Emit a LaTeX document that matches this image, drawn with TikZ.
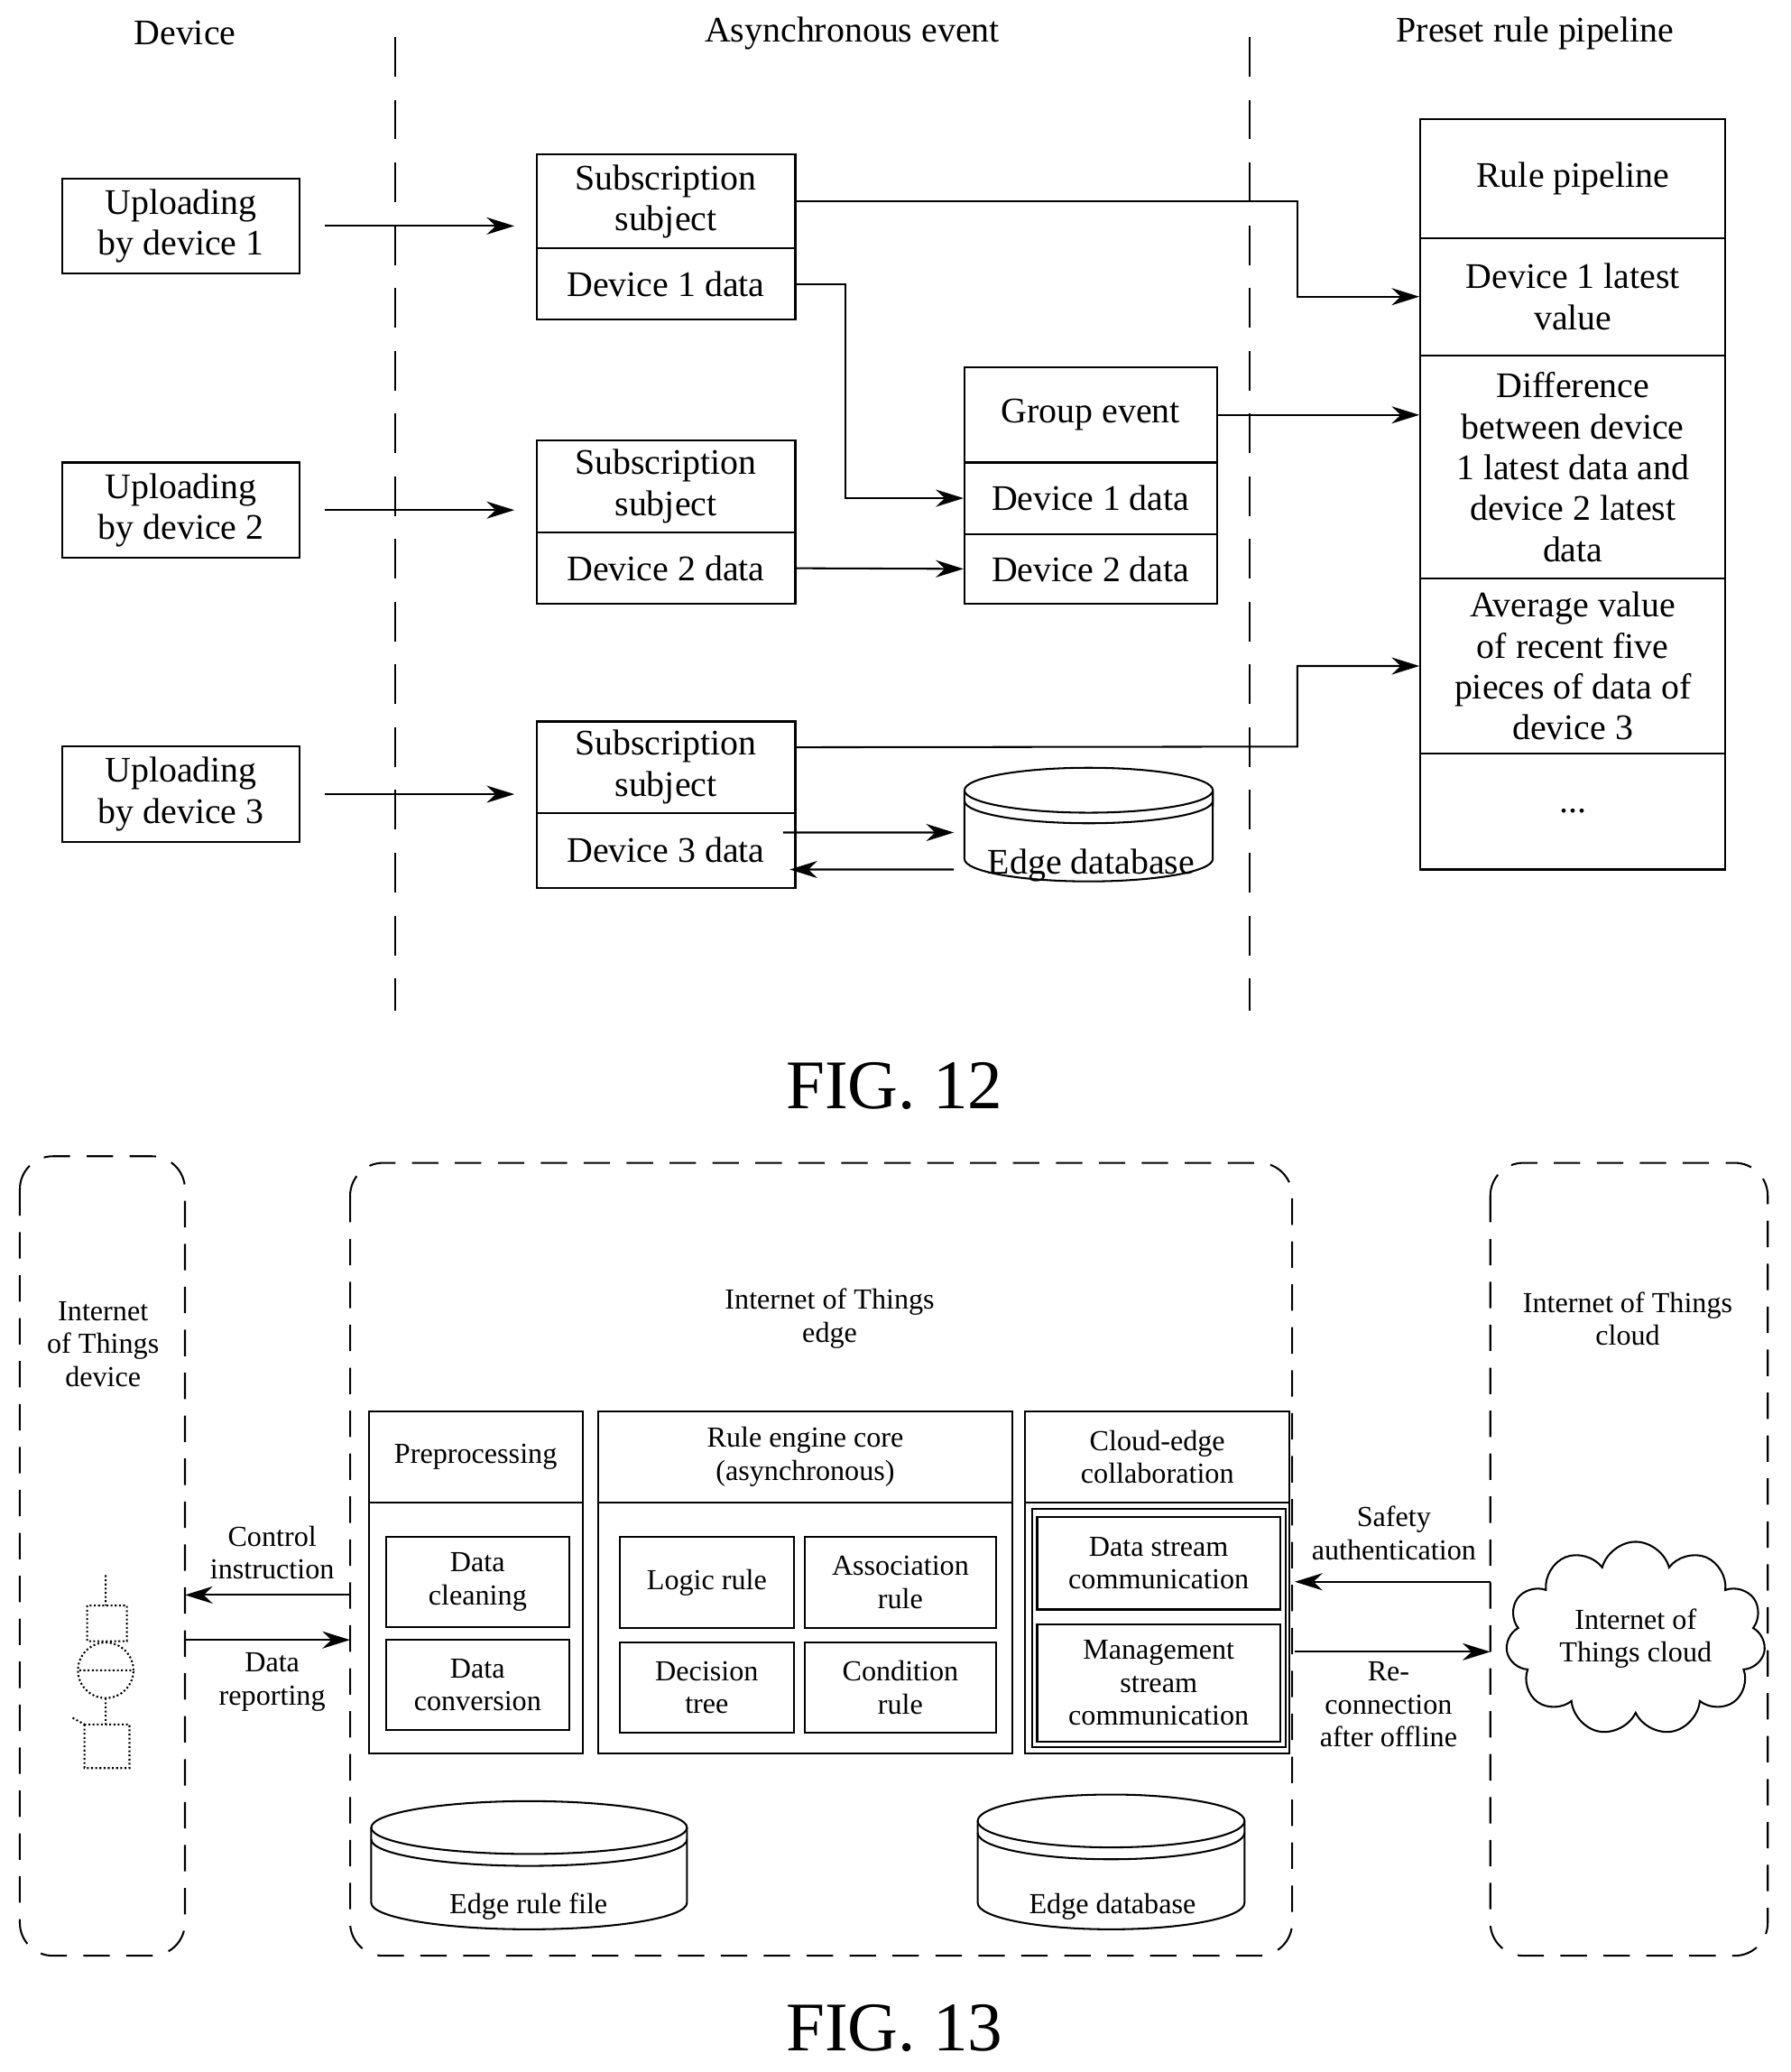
\documentclass[tikz,border=0pt]{standalone}
\usepackage{fontspec}
\setmainfont{Liberation Serif}
\usetikzlibrary{arrows.meta,shapes.symbols}
\tikzset{
  >={Stealth[length=0.42cm,width=0.26cm]},
  big/.style={font=\fontsize{15.5}{17.6}\selectfont},
  small/.style={font=\fontsize{12.5}{14.2}\selectfont},
  box/.style={draw,thick,rectangle,inner sep=0pt,align=center},
  frame/.style={draw,thick,dash pattern=on 0.4cm off 0.25cm,rounded corners=0.5cm},
  sep/.style={thick,dash pattern=on 0.6cm off 0.35cm},
}
\begin{document}
\begin{tikzpicture}[x=0.02cm,y=-0.02cm]
\useasboundingbox (0,0) rectangle (1355,1568);
% FIG. 12
\node[big] (hdev) at (140,25) {Device};
\node[big] (hasy) at (645,25) {Asynchronous event};
\node[big] (hpre) at (1162,25) {Preset rule pipeline};
\draw[sep] (299,28) -- (299,765);
\draw[sep] (946,28) -- (946,765);

\foreach \i/\y in {1/171,2/386,3/601}
  \node[box,big,minimum width=3.6cm,minimum height=1.44cm] (up\i) at (137,\y) {Uploading\\by device \i};

\node[box,big,minimum width=3.92cm,minimum height=1.42cm] (s1) at (504,152.5) {Subscription\\subject};
\node[box,big,minimum width=3.92cm,minimum height=1.08cm] (d1) at (504,215) {Device 1 data};
\node[box,big,minimum width=3.92cm,minimum height=1.4cm] (s2) at (504,368) {Subscription\\subject};
\node[box,big,minimum width=3.92cm,minimum height=1.08cm] (d2) at (504,430) {Device 2 data};
\node[box,big,minimum width=3.92cm,minimum height=1.38cm] (s3) at (504,580.5) {Subscription\\subject};
\node[box,big,minimum width=3.92cm,minimum height=1.14cm] (d3) at (504,643.5) {Device 3 data};

\node[box,big,minimum width=3.82cm,minimum height=1.44cm] (ge) at (825.5,314) {Group event};
\node[box,big,minimum width=3.82cm,minimum height=1.08cm] (g1) at (825.5,377) {Device 1 data};
\node[box,big,minimum width=3.82cm,minimum height=1.06cm] (g2) at (825.5,430.5) {Device 2 data};

\node[box,big,minimum width=4.62cm,minimum height=1.8cm] (p0) at (1190.5,135) {Rule pipeline};
\node[box,big,minimum width=4.62cm,minimum height=1.78cm] (p1) at (1190.5,224.5) {Device 1 latest\\value};
\node[box,big,minimum width=4.62cm,minimum height=3.38cm] (p2) at (1190.5,353.5) {Difference\\between device\\1 latest data and\\device 2 latest\\data};
\node[box,big,minimum width=4.62cm,minimum height=2.64cm] (p3) at (1190.5,504) {Average value\\of recent five\\pieces of data of\\device 3};
\node[box,big,minimum width=4.62cm,minimum height=1.76cm] (p4) at (1190.5,614) {...};

\draw[thick,->,shorten <=0.36cm,shorten >=0.32cm] (up1) -- (s1.west |- up1);
\draw[thick,->,shorten <=0.36cm,shorten >=0.32cm] (up2) -- (s2.west |- up2);
\draw[thick,->,shorten <=0.36cm,shorten >=0.32cm] (up3) -- (s3.west |- up3);
\draw[thick,->] (d1.east) -- (640,215) |- (g1.west);
\draw[thick,->] (d2.east) -- (g2.west);
\draw[thick,->] (s1.east) -- (982,152.5) |- (p1.west);
\draw[thick,->] (ge.east) -- (p2.west |- ge);
\draw[thick,->] ([yshift=0.3cm]s3.east) -- (982,565) |- (p3.west);

% edge database
\draw[thick,fill=white] (730,598) -- (730,650) arc[start angle=180,end angle=360,x radius=1.88cm,y radius=0.34cm] -- (918,598);
\draw[thick,fill=white] (824,598) ellipse [x radius=1.88cm,y radius=0.34cm];
\draw[thick] (730,606) arc[start angle=180,end angle=360,x radius=1.88cm,y radius=0.34cm];
\node[big] (db1) at (826,655) {Edge database};
\draw[thick,->] ([xshift=-0.2cm,yshift=0.27cm]d3.east) -- (722,630);
\draw[thick,->] (722,658) -- ([xshift=-0.1cm,yshift=-0.29cm]d3.east);
\node[font=\fontsize{30}{34}\selectfont] (fig12) at (677,822) {FIG. 12};

% FIG. 13
\draw[frame] (15,875) rectangle (140,1480);
\draw[frame] (265,880) rectangle (978,1480);
\draw[frame] (1128,880) rectangle (1338,1480);
\node[small,align=center] (iotd) at (78,1017) {Internet\\of Things\\device};
\node[small,align=center] (iote) at (628,998) {Internet of Things\\edge};
\node[small,align=center] (iotc) at (1232,998) {Internet of Things\\cloud};

\node[box,small,minimum width=3.24cm,minimum height=1.38cm] (pre) at (360,1102.5) {Preprocessing};
\draw[thick] (279,1137) rectangle (441,1327);
\node[box,small,minimum width=2.78cm,minimum height=1.36cm] (clean) at (361.5,1197) {Data\\cleaning};
\node[box,small,minimum width=2.78cm,minimum height=1.36cm] (conv) at (361.5,1275) {Data\\conversion};

\node[box,small,minimum width=6.26cm,minimum height=1.38cm] (core) at (609.5,1102.5) {Rule engine core\\(asynchronous)};
\draw[thick] (453,1137) rectangle (766,1327);
\node[box,small,minimum width=2.64cm,minimum height=1.38cm] (logic) at (535,1197.5) {Logic rule};
\node[box,small,minimum width=2.9cm,minimum height=1.38cm] (assoc) at (681.5,1197.5) {Association\\rule};
\node[box,small,minimum width=2.64cm,minimum height=1.36cm] (tree) at (535,1277) {Decision\\tree};
\node[box,small,minimum width=2.9cm,minimum height=1.36cm] (cond) at (681.5,1277) {Condition\\rule};

\node[box,small,minimum width=4cm,minimum height=1.38cm] (ce) at (876,1102.5) {Cloud-edge\\collaboration};
\draw[thick] (776,1137) rectangle (976,1327);
\draw[thick] (781,1142) rectangle (973,1322);
\node[box,small,minimum width=3.68cm,minimum height=1.4cm] (dsc) at (877,1183) {Data stream\\communication};
\node[box,small,minimum width=3.68cm,minimum height=1.78cm] (msc) at (877,1273.5) {Management\\stream\\communication};

% databases
\draw[thick,fill=white] (281,1383) -- (281,1440) arc[start angle=180,end angle=360,x radius=2.39cm,y radius=0.4cm] -- (520,1383);
\draw[thick,fill=white] (400.5,1383) ellipse [x radius=2.39cm,y radius=0.4cm];
\draw[thick] (281,1392) arc[start angle=180,end angle=360,x radius=2.39cm,y radius=0.4cm];
\node[small] (rulefile) at (400,1443) {Edge rule file};
\draw[thick,fill=white] (740,1378) -- (740,1440) arc[start angle=180,end angle=360,x radius=2.02cm,y radius=0.4cm] -- (942,1378);
\draw[thick,fill=white] (841,1378) ellipse [x radius=2.02cm,y radius=0.4cm];
\draw[thick] (740,1387) arc[start angle=180,end angle=360,x radius=2.02cm,y radius=0.4cm];
\node[small] (edb) at (842,1443) {Edge database};

% cloud
\node[cloud,draw,thick,cloud puffs=11,aspect=1.6,minimum width=3.6cm,minimum height=2.5cm,small,align=center] (cloud) at (1238,1240) {Internet of\\Things cloud};

% device icon
\draw[densely dotted,thick] (66,1215) rectangle (96,1242) (80,1192) -- (80,1215)
  (80,1264) circle (0.42cm) (60,1264) -- (100,1264) (80,1285) -- (80,1305)
  (64,1305) rectangle (98,1338) (55,1300) -- (64,1305);
\coordinate (devL) at (140,1207);
\coordinate (devR) at (140,1241);
\draw[thick,->] (265,1207) -- (devL);
\draw[thick,->] (devR) -- (265,1241);
\node[small,align=center] (ctrl) at (206,1175) {Control\\instruction};
\node[small,align=center] (rep) at (206,1273) {Data\\reporting};
\coordinate (cloudA) at (1128,1197);
\coordinate (cloudB) at (1128,1250);
\draw[thick,->] (cloudA) -- (980,1197);
\draw[thick,->] (980,1250) -- (cloudB);
\node[small,align=center] (safe) at (1055,1160) {Safety\\authentication};
\node[small,align=center] (recon) at (1051,1290) {Re-\\connection\\after offline};
\node[font=\fontsize{30}{34}\selectfont] (fig13) at (677,1535) {FIG. 13};
\end{tikzpicture}
\end{document}
